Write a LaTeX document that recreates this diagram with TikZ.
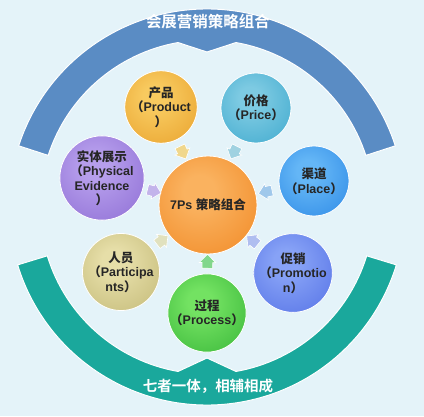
\documentclass[tikz,border=0pt]{standalone}
\usepackage{fontspec}
\setmainfont{Liberation Sans}
\newfontfamily\cjk{Noto Sans CJK SC Bold}
\newcommand\hanzi[1]{{\cjk #1}}
\usetikzlibrary{shapes.arrows}

\definecolor{backdrop}{RGB}{228,243,249}
\definecolor{band_blue}{RGB}{90,140,196}
\definecolor{band_teal}{RGB}{26,168,156}
\definecolor{core_lite}{RGB}{250,178,95}
\definecolor{core_base}{RGB}{238,125,20}
\definecolor{product_lite}{RGB}{248,202,95}
\definecolor{product_base}{RGB}{228,150,30}
\definecolor{price_lite}{RGB}{125,202,226}
\definecolor{price_base}{RGB}{45,160,200}
\definecolor{evidence_lite}{RGB}{182,158,236}
\definecolor{evidence_base}{RGB}{130,95,205}
\definecolor{place_lite}{RGB}{100,182,246}
\definecolor{place_base}{RGB}{30,125,225}
\definecolor{participants_lite}{RGB}{230,222,168}
\definecolor{participants_base}{RGB}{185,175,105}
\definecolor{promotion_lite}{RGB}{135,162,246}
\definecolor{promotion_base}{RGB}{70,100,225}
\definecolor{process_lite}{RGB}{115,226,98}
\definecolor{process_base}{RGB}{40,170,45}
\colorlet{glow_inner}{white}
\colorlet{glow_outer}{gray}
\pgfdeclareradialshading[glow_inner,glow_outer]{soft_glow}{\pgfpoint{-5bp}{8bp}}{%
  color(0bp)=(glow_inner); color(8bp)=(glow_inner); color(50bp)=(glow_outer); color(70bp)=(glow_outer)}

\begin{document}
\begin{tikzpicture}[x=1pt, y=1pt,
ball/.style={circle, minimum size=70pt, inner sep=0pt, align=center,
  draw=white, line width=0.8pt,
  /utils/exec={\colorlet{glow_inner}{#1_lite}\colorlet{glow_outer}{#1_base}},
  shading=soft_glow, font=\bfseries\fontsize{12.5}{14.5}\selectfont, text=black!85},
hint/.style={single arrow, minimum height=14pt, inner xsep=0pt, inner ysep=5pt,
  single arrow head extend=3pt, draw=white, line width=0.6pt,
  sloped, allow upside down},
band/.style={draw=white, line width=1pt},
band_text/.style={text=white, font=\cjk\fontsize{15.5}{16}\selectfont},
]

% background and page size
\fill[backdrop] (0,0) rectangle (424,416);
\useasboundingbox (0,0) rectangle (424,416);

% the two halves of the ring
\begin{scope}[shift={(207,209)}]
\path[band, fill=band_blue] (162:198) arc[start angle=162, end angle=18, radius=198]
  -- (18:167) arc[start angle=18, end angle=80, radius=167] -- (90:155)
  -- (100:167) arc[start angle=100, end angle=162, radius=167] -- cycle;
\path[band, fill=band_teal] (197:198) arc[start angle=197, end angle=343, radius=198]
  -- (343:167) arc[start angle=343, end angle=280, radius=167] -- (270:151)
  -- (260:167) arc[start angle=260, end angle=197, radius=167] -- cycle;
\end{scope}

\node[band_text](ring_top) at (208,394){会展营销策略组合};
\node[band_text, font=\cjk\fontsize{14.5}{15}\selectfont](ring_bottom) at (208,30){七者一体，相辅相成};

% \node[ball=colour](name) at (x,y){text}
\node[ball=core, minimum size=98pt](seven_ps) at (208,211){7Ps \hanzi{策略组合}};

\node[ball=product](product_ball) at (161,309){\hanzi{产品}\\\hanzi{（}Product\\\hanzi{）}};
\node[ball=price](price_ball) at (256,308){\hanzi{价格}\\\hanzi{（}Price\hanzi{）}};
\node[ball=evidence](evidence_ball) at (102,238){\hanzi{实体展示}\\\hanzi{（}Physical\\Evidence\\\hanzi{）}};
\node[ball=place](place_ball) at (314,235){\hanzi{渠道}\\\hanzi{（}Place\hanzi{）}};
\node[ball=participants](participants_ball) at (121,144){\hanzi{人员}\\\hanzi{（}Participa\\nts\hanzi{）}};
\node[ball=promotion](promotion_ball) at (293,143){\hanzi{促销}\\\hanzi{（}Promotio\\n\hanzi{）}};
\node[ball=process](process_ball) at (207,103){\hanzi{过程}\\\hanzi{（}Process\hanzi{）}};

% small arrows pointing to the centre
\path (product_ball) -- node[hint, fill={rgb,255:red,240;green,215;blue,140}]{} (seven_ps);
\path (price_ball) -- node[hint, fill={rgb,255:red,160;green,210;blue,225}]{} (seven_ps);
\path (evidence_ball) -- node[hint, fill={rgb,255:red,195;green,180;blue,235}]{} (seven_ps);
\path (place_ball) -- node[hint, fill={rgb,255:red,160;green,200;blue,235}]{} (seven_ps);
\path (participants_ball) -- node[hint, fill={rgb,255:red,225;green,225;blue,190}]{} (seven_ps);
\path (promotion_ball) -- node[hint, fill={rgb,255:red,175;green,190;blue,240}]{} (seven_ps);
\path (process_ball) -- node[hint, fill={rgb,255:red,130;green,215;blue,140}]{} (seven_ps);

\end{tikzpicture}
\end{document}
